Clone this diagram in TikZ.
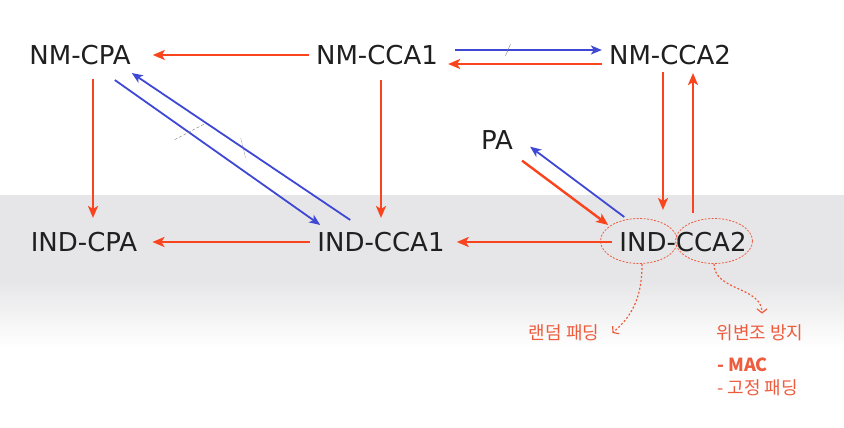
\documentclass[tikz,border=0pt]{standalone}
\usepackage{fontspec}
\setmainfont{DejaVu Sans}
\newfontfamily\kr{Noto Sans CJK KR}
\usepackage{tikz}
\usetikzlibrary{positioning}
\usetikzlibrary{shapes.geometric}
\usetikzlibrary{arrows.meta}

\definecolor{arrred}{RGB}{250,68,30}
\definecolor{arrblue}{RGB}{62,72,212}
\definecolor{notered}{RGB}{238,92,62}
\definecolor{band}{RGB}{230,230,232}

\begin{document}
\begin{tikzpicture}
    [ x=1pt, y=1pt,
    every node/.style={inner sep=7pt},
    N/.style={font=\fontsize{26}{30}\selectfont, text=black!88},
    redarr/.style={draw=arrred, line width=2.4pt, -{Stealth[length=12pt,width=10pt,inset=3pt]}},
    bluearr/.style={draw=arrblue, line width=1.8pt, -{Stealth[length=11pt,width=9pt,inset=3pt]}},
    cut/.style={draw=gray, thin, inner sep=0pt, minimum width=0pt, minimum height=0pt},
    half/.style={ellipse, draw=notered, dash pattern=on 2pt off 1.5pt, line width=0.8pt, minimum width=77pt, minimum height=45pt},
    note/.style={font=\kr\fontsize{18}{21}\selectfont, text=notered, inner sep=3pt},
    hint/.style={draw=notered, dash pattern=on 2pt off 2pt, line width=1.2pt, -{Straight Barb[length=4pt,width=10pt]}}
    ]

    \fill[white] (0,0) rectangle (844,428);
    \fill[band] (0,148) rectangle (844,233);
    \shade[top color=band, bottom color=white] (0,80) rectangle (844,148);
    \useasboundingbox (0,0) rectangle (844,428);

    \node[N] (nmcpa)  at (80,373)  {NM-CPA};
    \node[N] (nmcca1) at (377,373) {NM-CCA1};
    \node[N] (nmcca2) at (670,373) {NM-CCA2};
    \node[N] (pa)     at (497,288) {PA};
    \node[N] (indcpa)  at (84,186)  {IND-CPA};
    \node[N] (indcca1) at (381,186) {IND-CCA1};
    \node[N] (indcca2) at (683,186) {IND-CCA2};

    \node[half] (ell1) at ([xshift=-44pt,yshift=1pt]indcca2.center) {};
    \node[half] (ell2) at ([xshift=31pt,yshift=1pt]indcca2.center) {};

    \draw[redarr] (nmcca1.west) -- ([xshift=15pt]nmcpa.east);
    \draw[bluearr] ([xshift=10pt,yshift=5pt]nmcca1.east) -- node[cut, pos=0.36, minimum height=13pt, rotate=-23]{} ([yshift=5pt]nmcca2.west);
    \draw[redarr] ([yshift=-9pt]nmcca2.west) -- ([xshift=3pt,yshift=-9pt]nmcca1.east);

    \draw[redarr] ([xshift=13pt,yshift=-7pt]nmcpa.south) -- ([xshift=9pt,yshift=7pt]indcpa.north);
    \draw[redarr] ([xshift=4pt,yshift=-8pt]nmcca1.south) -- ([xshift=0pt,yshift=7pt]indcca1.north);
    \draw[redarr] ([xshift=-7pt]nmcca2.south) -- ([xshift=-20pt,yshift=15pt]indcca2.north);
    \draw[redarr] ([xshift=10pt,yshift=12pt]indcca2.north) -- ([xshift=23pt,yshift=-1pt]nmcca2.south);

    \draw[redarr] (indcca1.west) -- ([xshift=8pt]indcpa.east);
    \draw[redarr] (indcca2.west) -- ([xshift=5pt]indcca1.east);

    \draw[bluearr] ([xshift=-23pt,yshift=-8pt]nmcpa.south east) -- node[cut, densely dashed, pos=0.36, minimum width=34pt, rotate=28]{} ([xshift=10pt]indcca1.north west);
    \draw[bluearr] ([xshift=40pt,yshift=5pt]indcca1.north west) -- node[cut, densely dotted, pos=0.49, minimum height=20pt, rotate=14]{} ([xshift=-6pt,yshift=-1pt]nmcpa.south east);

    \draw[redarr] ([xshift=2pt,yshift=-4pt]pa.south east) -- ([xshift=-4pt]indcca2.north west);
    \draw[bluearr] ([xshift=12pt,yshift=8pt]indcca2.north west) -- ([xshift=10pt,yshift=10pt]pa.south east);

    \node[note] (rpad) at (564,95) {랜덤 패딩};
    \node[note] (forge) at (760,95) {위변조 방지};
    \node[note, font=\kr\bfseries\fontsize{18}{21}\selectfont, anchor=west] (mac) at (714,63) {- MAC};
    \node[note, below=1pt of mac.south west, anchor=north west] (fixpad) {- 고정 패딩};

    \draw[hint] ([xshift=3pt]ell1.south) to[out=-90, in=40] ([xshift=10pt]rpad.east);
    \draw[hint] (ell2.south) to[out=-90, in=90] ([xshift=2pt,yshift=8pt]forge.north);
  \end{tikzpicture}
\end{document}
